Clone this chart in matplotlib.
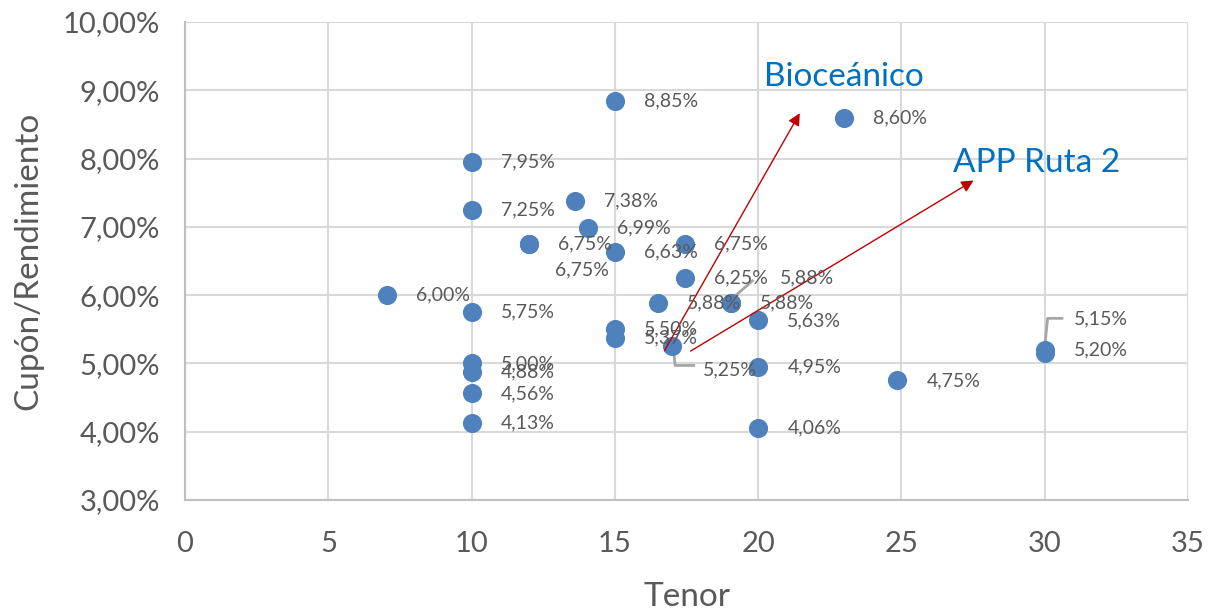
import matplotlib.pyplot as plt
from matplotlib.ticker import FuncFormatter

plt.rcParams["font.family"] = ["Lato", "DejaVu Sans"]

# Tenor (years) and coupon/yield (%)
tenor = [15, 23, 10, 10, 13.6, 14.05, 12, 12, 15, 17.45, 17.45, 16.5, 19.05, 19.05,
         20, 15, 15, 17, 20, 24.85, 20, 30, 30, 7.05, 10, 10, 10, 10, 10]
rate = [8.85, 8.60, 7.95, 7.25, 7.38, 6.99, 6.75, 6.75, 6.63, 6.75, 6.25, 5.88, 5.88, 5.88,
        5.63, 5.50, 5.37, 5.25, 4.95, 4.75, 4.06, 5.20, 5.15, 6.00, 5.75, 5.00, 4.88, 4.56, 4.13]
labels = [f"{v:.2f}%".replace(".", ",") for v in rate]

# label offsets in points (default: right of the marker)
default_off = (21, 0)
custom_off = {7: (19, -19), 13: (35, 18), 17: (22, -17), 22: (21, 25)}

fig = plt.figure(figsize=(12.19, 6.11), dpi=100)
ax = fig.add_axes([0.1518, 0.1817, 0.8228, 0.7823])

ax.scatter(tenor, rate, s=190, color="#4F81BD", zorder=3, linewidths=0)

for i, (x, y, t) in enumerate(zip(tenor, rate, labels)):
    off = custom_off.get(i, default_off)
    ax.annotate(t, (x, y), xytext=off, textcoords="offset points",
                ha="left", va="center", fontsize=14, color="#595959", zorder=4)

# leader lines for the moved labels
ax.plot([19.2, 19.8], [5.99, 6.21], color="#A6A6A6", lw=2, zorder=2)
ax.plot([17.05, 17.1, 17.75], [5.2, 4.97, 4.97], color="#A6A6A6", lw=2, zorder=2)
ax.plot([30.0, 30.1, 30.6], [5.25, 5.66, 5.66], color="#A6A6A6", lw=2, zorder=2)

# red arrows to the project names
ax.annotate("", xy=(21.5, 8.7), xytext=(16.68, 5.15),
            arrowprops=dict(arrowstyle="-|>", color="#C00000", lw=1, mutation_scale=18))
ax.annotate("", xy=(27.6, 7.7), xytext=(17.56, 5.16),
            arrowprops=dict(arrowstyle="-|>", color="#C00000", lw=1, mutation_scale=18))
ax.text(23.0, 9.2, "Bioceánico", color="#0070C0", fontsize=24, ha="center", va="center")
ax.text(29.7, 7.93, "APP Ruta 2", color="#0070C0", fontsize=24, ha="center", va="center")

ax.set_xlim(0, 35)
ax.set_ylim(3, 10)
ax.set_xticks(range(0, 36, 5))
ax.set_yticks(range(3, 11))
ax.yaxis.set_major_formatter(FuncFormatter(lambda v, p: f"{v:.2f}%".replace(".", ",")))

ax.grid(True, color="#D9D9D9", lw=1.5)
ax.set_axisbelow(True)
for s in ["top", "right"]:
    ax.spines[s].set_visible(False)
for s in ["left", "bottom"]:
    ax.spines[s].set_color("#BFBFBF")
    ax.spines[s].set_linewidth(1.5)
ax.tick_params(length=0, labelsize=21, colors="#595959")
ax.tick_params(axis="x", pad=22)
ax.tick_params(axis="y", pad=18)

ax.set_xlabel("Tenor", fontsize=24, color="#595959", labelpad=18)
ax.set_ylabel("Cupón/Rendimiento", fontsize=24, color="#595959", labelpad=14)

fig.savefig("out.png", dpi=100)
